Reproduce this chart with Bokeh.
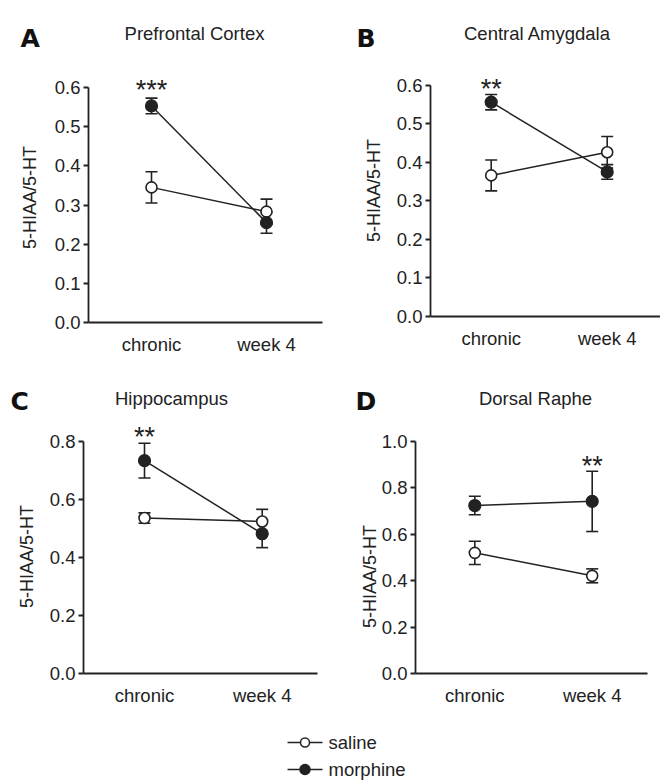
import math
from bokeh.plotting import figure
from bokeh.models import Range1d, FixedTicker, PrintfTickFormatter
from bokeh.layouts import column, row
from bokeh.embed import file_html
from bokeh.resources import INLINE
from bokeh.core.properties import value

# ---------------- data ----------------
conditions = ["chronic", "week 4"]
x_pos = [1, 2]

pfc_saline = [0.345, 0.283]
pfc_saline_err = [0.040, 0.032]
pfc_morphine = [0.553, 0.255]
pfc_morphine_err = [0.020, 0.027]

cea_saline = [0.366, 0.426]
cea_saline_err = [0.040, 0.041]
cea_morphine = [0.556, 0.375]
cea_morphine_err = [0.020, 0.019]

hip_saline = [0.536, 0.524]
hip_saline_err = [0.018, 0.042]
hip_morphine = [0.734, 0.482]
hip_morphine_err = [0.060, 0.048]

dr_saline = [0.520, 0.421]
dr_saline_err = [0.050, 0.030]
dr_morphine = [0.724, 0.742]
dr_morphine_err = [0.040, 0.130]

panel_letters = ["A", "B", "C", "D"]
panel_titles = ["Prefrontal Cortex", "Central Amygdala", "Hippocampus", "Dorsal Raphe"]
star_text = ["***", "**", "**", "**"]
star_condition = [0, 0, 0, 1]
star_y = [0.613, 0.612, 0.844, 0.927]
ticks_pfc = [0.0, 0.1, 0.2, 0.3, 0.4, 0.5, 0.6]
ticks_cea = [0.0, 0.1, 0.2, 0.3, 0.4, 0.5, 0.6]
ticks_hip = [0.0, 0.2, 0.4, 0.6, 0.8]
ticks_dr = [0.0, 0.2, 0.4, 0.6, 0.8, 1.0]
y_label = "5-HIAA/5-HT"
legend_labels = ["saline", "morphine"]

FONT = "Liberation Sans"
INK = "#222222"

# ---------------- layout geometry (page px; page origin at 0,0) ----------------
# each figure's frame fills the whole figure; axes are pinned with fixed_location
geoms = [
    dict(ox=0, oy=0, w=330, h=360, fl=88, fr=322, fb=322, c1=151, c2=266, ytp=87,
         lx=20, lb=38, tx=194, tb=33, yx=29, yy=197),
    dict(ox=330, oy=0, w=330, h=360, fl=430, fr=660, fb=316, c1=490.7, c2=606.7, ytp=84.7,
         lx=356, lb=38, tx=537, tb=33, yx=373, yy=190),
    dict(ox=0, oy=360, w=330, h=345, fl=83, fr=317, fb=673, c1=144, c2=261.7, ytp=441,
         lx=10, lb=401, tx=171, tb=398, yx=26, yy=556),
    dict(ox=330, oy=360, w=330, h=345, fl=415, fr=647, fb=673, c1=474.3, c2=591.7, ytp=441,
         lx=355, lb=401, tx=535, tb=398, yx=369, yy=576),
]

panels = [
    (pfc_saline, pfc_saline_err, pfc_morphine, pfc_morphine_err, ticks_pfc),
    (cea_saline, cea_saline_err, cea_morphine, cea_morphine_err, ticks_cea),
    (hip_saline, hip_saline_err, hip_morphine, hip_morphine_err, ticks_hip),
    (dr_saline, dr_saline_err, dr_morphine, dr_morphine_err, ticks_dr),
]


def make_panel(i):
    g = geoms[i]
    sal, sal_e, mor, mor_e, ticks = panels[i]
    ytop = ticks[-1]
    xs = g["c2"] - g["c1"]                  # px per x unit
    ys = (g["fb"] - g["ytp"]) / ytop        # px per y unit

    def px2x(px):
        return x_pos[0] + (px - g["c1"]) / xs

    def px2y(py):
        return (g["fb"] - py) / ys

    x0, x1 = px2x(g["ox"]), px2x(g["ox"] + g["w"])
    y0, y1 = px2y(g["oy"] + g["h"]), px2y(g["oy"])

    p = figure(width=g["w"], height=g["h"], x_range=Range1d(x0, x1), y_range=Range1d(y0, y1),
               output_backend="svg", toolbar_location=None,
               min_border_left=0, min_border_right=0, min_border_top=0, min_border_bottom=0)
    p.outline_line_color = None
    p.xgrid.visible = False
    p.ygrid.visible = False

    # x axis pinned at y = 0
    xa = p.xaxis[0]
    xa.fixed_location = 0
    xa.bounds = (px2x(g["fl"]), px2x(g["fr"]))
    xa.ticker = FixedTicker(ticks=x_pos)
    xa.major_label_overrides = {x_pos[0]: conditions[0], x_pos[1]: conditions[1]}
    xa.major_tick_out = 0
    xa.major_tick_in = 0
    xa.minor_tick_out = 0
    xa.minor_tick_in = 0
    xa.major_label_standoff = 11
    xa.axis_line_width = 1.8
    xa.axis_line_color = INK
    xa.major_label_text_font = FONT
    xa.major_label_text_font_size = "18.5px"
    xa.major_label_text_color = INK

    # y axis pinned at the frame's left edge
    ya = p.yaxis[0]
    ya.fixed_location = px2x(g["fl"])
    ya.ticker = FixedTicker(ticks=ticks)
    ya.formatter = PrintfTickFormatter(format="%.1f")
    ya.bounds = (0, ytop)
    ya.major_tick_out = 5
    ya.major_tick_in = 0
    ya.minor_tick_out = 0
    ya.minor_tick_in = 0
    ya.major_tick_line_width = 1.8
    ya.major_tick_line_color = INK
    ya.major_label_standoff = 3
    ya.axis_line_width = 1.8
    ya.axis_line_color = INK
    ya.major_label_text_font = FONT
    ya.major_label_text_font_size = "18.5px"
    ya.major_label_text_color = INK

    # y axis title
    p.text(x=[px2x(g["yx"])], y=[px2y(g["yy"])], text=[y_label], angle=math.pi / 2,
           text_font=value(FONT), text_font_size="18px", text_color=INK,
           text_align="center", text_baseline="middle")

    # connecting lines
    p.line(x_pos, sal, line_color=INK, line_width=1.5)
    p.line(x_pos, mor, line_color=INK, line_width=1.5)

    # error bars
    for vals, errs in ((sal, sal_e), (mor, mor_e)):
        lo = [v - e for v, e in zip(vals, errs)]
        hi = [v + e for v, e in zip(vals, errs)]
        p.segment(x0=x_pos, y0=lo, x1=x_pos, y1=hi, line_color=INK, line_width=1.6)
        p.scatter(x_pos, lo, marker="dash", size=12, line_color=INK, line_width=1.6)
        p.scatter(x_pos, hi, marker="dash", size=12, line_color=INK, line_width=1.6)

    # markers
    p.scatter(x_pos, sal, marker="circle", size=11, fill_color="white", line_color=INK, line_width=1.6)
    p.scatter(x_pos, mor, marker="circle", size=12, fill_color=INK, line_color=INK, line_width=1.2)

    # significance stars
    p.text(x=[x_pos[star_condition[i]]], y=[star_y[i]], text=[star_text[i]],
           text_font=value(FONT), text_font_size="27px", text_color=INK,
           text_align="center", text_baseline="middle", y_offset=8)

    # panel letter and title
    p.text(x=[px2x(g["lx"])], y=[px2y(g["lb"])], text=[panel_letters[i]],
           text_font=value("DejaVu Sans"), text_font_size="25px", text_font_style="bold",
           text_color="#111111", text_align="left", text_baseline="alphabetic")
    p.text(x=[px2x(g["tx"])], y=[px2y(g["tb"])], text=[panel_titles[i]],
           text_font=value(FONT), text_font_size="18.5px", text_color=INK,
           text_align="center", text_baseline="alphabetic")
    return p


figs = [make_panel(i) for i in range(4)]

# legend strip (page coordinates)
leg = figure(width=660, height=75, x_range=Range1d(0, 660), y_range=Range1d(780, 705),
             output_backend="svg", toolbar_location=None,
             min_border_left=0, min_border_right=0, min_border_top=0, min_border_bottom=0)
leg.axis.visible = False
leg.xgrid.visible = False
leg.ygrid.visible = False
leg.outline_line_color = None
leg_y = [742, 769]
leg_fill = ["white", INK]
leg_size = [9, 10]
for k in range(2):
    leg.line([287, 322], [leg_y[k], leg_y[k]], line_color=INK, line_width=1.6)
    leg.scatter([304.5], [leg_y[k]], marker="circle", size=leg_size[k],
                fill_color=leg_fill[k], line_color=INK, line_width=1.5)
    leg.text(x=[328], y=[leg_y[k]], text=[legend_labels[k]], text_font=value(FONT),
             text_font_size="18.5px", text_color=INK, text_align="left", text_baseline="middle")

layout = column(row(figs[0], figs[1]), row(figs[2], figs[3]), leg)

open("out.html", "w").write(file_html(layout, INLINE))
